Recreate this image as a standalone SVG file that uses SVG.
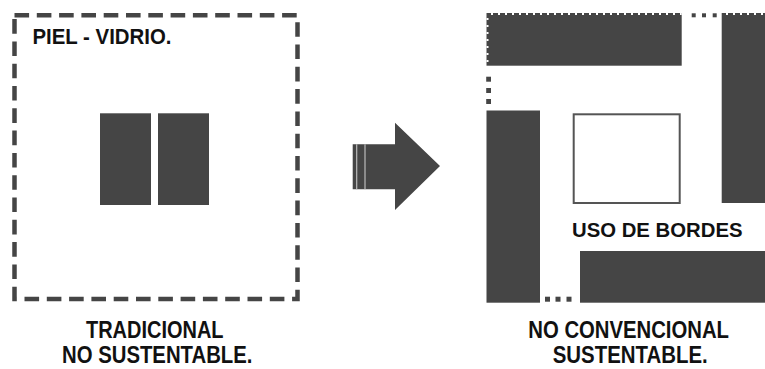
<svg xmlns="http://www.w3.org/2000/svg" width="765" height="369" viewBox="0 0 765 369">
<style>
.dk{fill:#454545}
.t{font-family:"Liberation Sans",Arial,sans-serif;font-weight:bold;fill:#111}
.notch{stroke:#fff;stroke-width:2;stroke-dasharray:2 5;fill:none}
</style>
<rect width="765" height="369" fill="#fff"/>
<g id="tradicional">
<rect x="14.5" y="15.3" width="283" height="283.7" fill="none" stroke="#454545" stroke-width="4.5" stroke-dasharray="14.6 7.7"/>
<text class="t" x="32.5" y="44.3" font-size="21.4" textLength="139" lengthAdjust="spacingAndGlyphs">PIEL - VIDRIO.</text>
<rect class="dk" x="100" y="113.3" width="51" height="91.7"/>
<rect class="dk" x="158" y="113.3" width="51" height="91.7"/>
</g>
<g id="connectors">
<polygon class="dk" points="352.7,144.3 395,144.3 395,122.7 440,166 395,210 395,189.3 352.7,189.3"/>
<line x1="356.7" y1="144.3" x2="356.7" y2="189.3" stroke="#bbb" stroke-width="1.2"/>
<line x1="365" y1="144.3" x2="365" y2="189.3" stroke="#bbb" stroke-width="1.2"/>
</g>
<g id="no-convencional">
<rect class="dk" x="486.5" y="13" width="195.2" height="52.7"/>
<rect class="dk" x="721.7" y="13" width="43.3" height="190"/>
<rect class="dk" x="486.5" y="110.5" width="53.5" height="192.2"/>
<rect class="dk" x="580" y="251" width="185" height="51.7"/>
<path class="notch" d="M491,14 H681.7 M726,14 H765 M487.5,18 V65.7"/>
<g class="dk">
<rect x="691.7" y="13.3" width="4" height="4"/>
<rect x="702" y="13.3" width="4" height="4"/>
<rect x="712.7" y="13.3" width="4" height="4"/>
<rect x="486.2" y="76.7" width="4.8" height="5"/>
<rect x="486.2" y="88" width="4.8" height="5"/>
<rect x="486.2" y="99" width="4.8" height="5"/>
<rect x="545" y="296.7" width="5" height="5"/>
<rect x="555.5" y="296.7" width="5" height="5"/>
<rect x="566.5" y="296.7" width="5" height="5"/>
</g>
<rect x="573.7" y="114.3" width="106" height="88.7" fill="#fff" stroke="#555" stroke-width="2"/>
<text class="t" x="572" y="237" font-size="20.5" textLength="170.5" lengthAdjust="spacingAndGlyphs">USO DE BORDES</text>
</g>
<g id="labels">
<text class="t" x="86" y="338.3" font-size="23" textLength="137.5" lengthAdjust="spacingAndGlyphs">TRADICIONAL</text>
<text class="t" x="62" y="363.3" font-size="23" textLength="190.5" lengthAdjust="spacingAndGlyphs">NO SUSTENTABLE.</text>
<text class="t" x="528.3" y="338.3" font-size="23" textLength="200.7" lengthAdjust="spacingAndGlyphs">NO CONVENCIONAL</text>
<text class="t" x="552.7" y="363.3" font-size="23" textLength="155" lengthAdjust="spacingAndGlyphs">SUSTENTABLE.</text>
</g>
</svg>
